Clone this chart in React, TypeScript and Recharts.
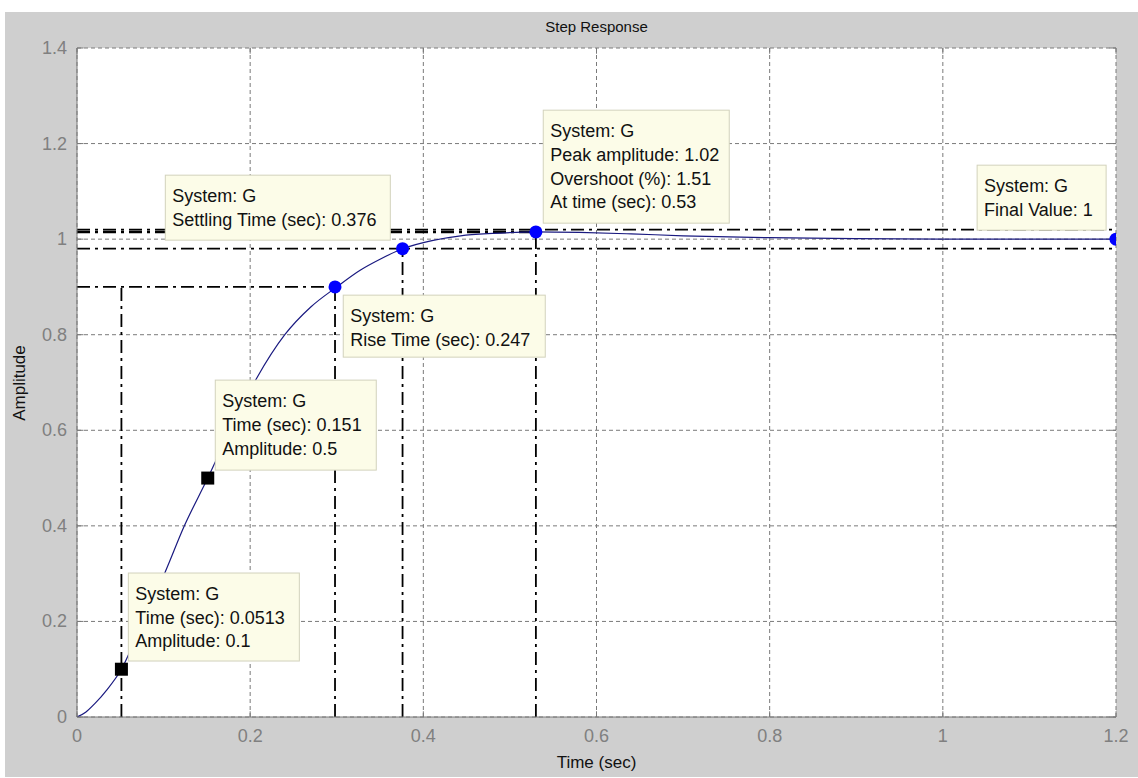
import React from 'react';
import {
  ComposedChart, Line, Scatter, XAxis, YAxis, CartesianGrid, ReferenceLine, ReferenceDot,
} from 'recharts';

// Step response curve
const TIME = [0, 0.01, 0.02, 0.035, 0.0513, 0.076, 0.102, 0.124, 0.151, 0.178, 0.2075, 0.24, 0.27, 0.3, 0.327, 0.35, 0.376, 0.41, 0.443, 0.48, 0.53, 0.58, 0.64, 0.7, 0.8, 0.9, 1.0, 1.1, 1.2];
const AMP = [0, 0.01, 0.027, 0.058, 0.1, 0.2, 0.304, 0.4, 0.5, 0.605, 0.709, 0.8, 0.858, 0.9, 0.935, 0.958, 0.98, 0.997, 1.007, 1.012, 1.0151, 1.014, 1.011, 1.007, 1.003, 1.001, 1.0, 1.0, 1.0];

// Characteristic markers
const SQUARE_T = [0.0513, 0.151];
const SQUARE_A = [0.1, 0.5];
const CIRCLE_T = [0.298, 0.376, 0.53, 1.2];
const CIRCLE_A = [0.9, 0.98, 1.0151, 1.0];

// Characteristic values
const RISE_START = 0.0513;
const RISE_END = 0.298;
const RISE_LEVEL = 0.9;
const SETTLE_TIME = 0.376;
const SETTLE_LOW = 0.98;
const SETTLE_HIGH = 1.02;
const PEAK_TIME = 0.53;
const PEAK_AMP = 1.0151;

// Axes
const X_TICKS = [0, 0.2, 0.4, 0.6, 0.8, 1, 1.2];
const Y_TICKS = [0, 0.2, 0.4, 0.6, 0.8, 1, 1.2, 1.4];
const X_MAX = 1.2;
const Y_MAX = 1.4;

// Data tips: anchor (top-left, data coords), size, lines
const TIP_T = [0.102, 0.5385, 1.0396, 0.3075, 0.1597, 0.0593];
const TIP_A = [1.1339, 1.2699, 1.1548, 0.8828, 0.705, 0.3013];
const TIP_W = [225, 186, 129, 202, 161, 171];
const TIP_H = [65, 113, 65, 62, 90, 88];
const TIP_TEXT = [
  ['System: G', 'Settling Time (sec): 0.376'],
  ['System: G', 'Peak amplitude: 1.02', 'Overshoot (%): 1.51', 'At time (sec): 0.53'],
  ['System: G', 'Final Value: 1'],
  ['System: G', 'Rise Time (sec): 0.247'],
  ['System: G', 'Time (sec): 0.151', 'Amplitude: 0.5'],
  ['System: G', 'Time (sec): 0.0513', 'Amplitude: 0.1'],
];

const curve = TIME.map((t, i) => ({ t, y: AMP[i] }));
const squares = SQUARE_T.map((t, i) => ({ t, y: SQUARE_A[i] }));
const circles = CIRCLE_T.map((t, i) => ({ t, y: CIRCLE_A[i] }));

const FONT = '"Liberation Sans", Arial, sans-serif';
const GRAY = '#7a7a7a';
const DASHDOT = '13 5 3 5';

const tipShape = (idx: number) => (props: any) => {
  const { cx, cy } = props;
  const w = TIP_W[idx];
  const h = TIP_H[idx];
  return (
    <g>
      <rect x={cx} y={cy} width={w} height={h} fill="#fcfce8" stroke="#d2d2bc" strokeWidth={1} />
      {TIP_TEXT[idx].map((s, j) => (
        <text key={j} x={cx + 7} y={cy + 27 + j * 23.7} fontFamily={FONT} fontSize={18} fill="#111">
          {s}
        </text>
      ))}
    </g>
  );
};

const XTick = (props: any) => {
  const { x, y, payload } = props;
  return (
    <text x={x} y={y + 17} textAnchor="middle" fontFamily={FONT} fontSize={18} fill="#808080">
      {String(payload.value)}
    </text>
  );
};
const YTick = (props: any) => {
  const { x, y, payload } = props;
  return (
    <text x={x - 2} y={y + 6} textAnchor="end" fontFamily={FONT} fontSize={18} fill="#808080">
      {String(payload.value)}
    </text>
  );
};

const TICK_LEN_Y = 0.012;
const TICK_LEN_X = 0.0075;

export default function App() {
  return (
    <div style={{ position: 'absolute', left: 0, top: 0, width: 1138, height: 778, background: '#ffffff', overflow: 'hidden' }}>
      <div style={{ position: 'absolute', left: 5, top: 12, width: 1133, height: 765, background: '#cfcfcf' }} />
      <div style={{ position: 'absolute', left: 0, top: 0 }}>
        <ComposedChart width={1138} height={778} data={curve} margin={{ top: 48, right: 22, bottom: 31, left: 17 }}>
          <CartesianGrid stroke={GRAY} strokeDasharray="4 3" fill="#ffffff" fillOpacity={1} />
          <XAxis dataKey="t" type="number" domain={[0, X_MAX]} ticks={X_TICKS} tickLine={false} axisLine={{ stroke: GRAY }} tick={<XTick />} height={30} allowDataOverflow />
          <XAxis xAxisId="top" orientation="top" type="number" domain={[0, X_MAX]} tick={false} tickLine={false} axisLine={{ stroke: GRAY }} height={0} />
          <YAxis type="number" domain={[0, Y_MAX]} ticks={Y_TICKS} tickLine={false} axisLine={{ stroke: GRAY }} tick={<YTick />} width={60} allowDataOverflow />
          <YAxis yAxisId="right" orientation="right" type="number" domain={[0, Y_MAX]} tick={false} tickLine={false} axisLine={{ stroke: GRAY }} width={0} />

          {X_TICKS.map((t) => (
            <ReferenceLine key={'xb' + t} segment={[{ x: t, y: 0 }, { x: t, y: TICK_LEN_Y }]} stroke={GRAY} />
          ))}
          {X_TICKS.map((t) => (
            <ReferenceLine key={'xt' + t} segment={[{ x: t, y: Y_MAX }, { x: t, y: Y_MAX - TICK_LEN_Y }]} stroke={GRAY} />
          ))}
          {Y_TICKS.map((v) => (
            <ReferenceLine key={'yl' + v} segment={[{ x: 0, y: v }, { x: TICK_LEN_X, y: v }]} stroke={GRAY} />
          ))}
          {Y_TICKS.map((v) => (
            <ReferenceLine key={'yr' + v} segment={[{ x: X_MAX, y: v }, { x: X_MAX - TICK_LEN_X, y: v }]} stroke={GRAY} />
          ))}

          {TIP_TEXT.map((_, i) => (
            <ReferenceDot key={'tip' + i} x={TIP_T[i]} y={TIP_A[i]} r={0} shape={tipShape(i)} ifOverflow="visible" />
          ))}

          {/* rise time */}
          <ReferenceLine segment={[{ x: 0, y: RISE_LEVEL }, { x: RISE_END, y: RISE_LEVEL }]} stroke="#000" strokeWidth={1.8} strokeDasharray={DASHDOT} />
          <ReferenceLine segment={[{ x: RISE_START, y: 0 }, { x: RISE_START, y: RISE_LEVEL }]} stroke="#000" strokeWidth={1.8} strokeDasharray={DASHDOT} />
          <ReferenceLine segment={[{ x: RISE_END, y: 0 }, { x: RISE_END, y: RISE_LEVEL }]} stroke="#000" strokeWidth={1.8} strokeDasharray={DASHDOT} />
          {/* settling */}
          <ReferenceLine segment={[{ x: 0, y: SETTLE_LOW }, { x: X_MAX, y: SETTLE_LOW }]} stroke="#000" strokeWidth={1.8} strokeDasharray={DASHDOT} />
          <ReferenceLine segment={[{ x: 0, y: SETTLE_HIGH }, { x: X_MAX, y: SETTLE_HIGH }]} stroke="#000" strokeWidth={1.8} strokeDasharray={DASHDOT} />
          <ReferenceLine segment={[{ x: SETTLE_TIME, y: 0 }, { x: SETTLE_TIME, y: SETTLE_LOW }]} stroke="#000" strokeWidth={1.8} strokeDasharray={DASHDOT} />
          {/* peak */}
          <ReferenceLine segment={[{ x: 0, y: PEAK_AMP }, { x: PEAK_TIME, y: PEAK_AMP }]} stroke="#000" strokeWidth={2.4} strokeDasharray={DASHDOT} />
          <ReferenceLine segment={[{ x: PEAK_TIME, y: 0 }, { x: PEAK_TIME, y: PEAK_AMP }]} stroke="#000" strokeWidth={1.8} strokeDasharray={DASHDOT} />

          <Line type="monotone" dataKey="y" stroke="#1a1a80" strokeWidth={1.2} dot={false} isAnimationActive={false} />
          <Scatter data={squares} dataKey="y" isAnimationActive={false}
            shape={(p: any) => <rect x={p.cx - 6.5} y={p.cy - 6.5} width={13} height={13} fill="#000" />} />
          <Scatter data={circles} dataKey="y" isAnimationActive={false}
            shape={(p: any) => <circle cx={p.cx} cy={p.cy} r={6.5} fill="#0000ff" />} />
        </ComposedChart>
      </div>
      <div style={{ position: 'absolute', left: 77, width: 1039, top: 18, textAlign: 'center', fontFamily: FONT, fontSize: 15, color: '#111' }}>
        Step Response
      </div>
      <div style={{ position: 'absolute', left: 77, width: 1039, top: 753, textAlign: 'center', fontFamily: FONT, fontSize: 17, color: '#111' }}>
        Time (sec)
      </div>
      <div style={{ position: 'absolute', left: 20, top: 383, width: 0, height: 0 }}>
        <div style={{ position: 'absolute', left: -60, top: -10, width: 120, textAlign: 'center', transform: 'rotate(-90deg)', fontFamily: FONT, fontSize: 17, color: '#111', lineHeight: '20px' }}>
          Amplitude
        </div>
      </div>
    </div>
  );
}
